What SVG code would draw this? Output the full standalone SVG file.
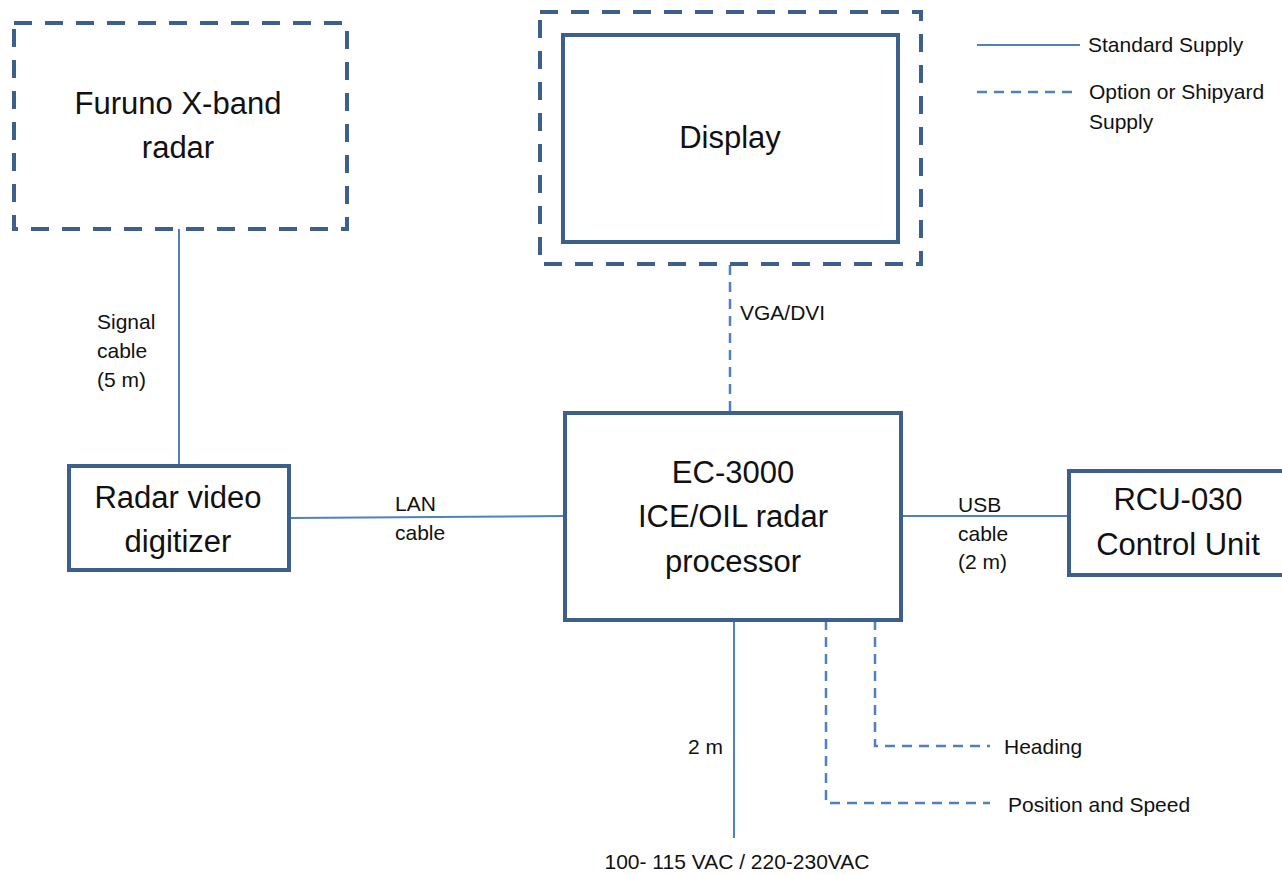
<svg xmlns="http://www.w3.org/2000/svg" width="1282" height="875" viewBox="0 0 1282 875">
<style>
.box{fill:#fff;stroke:#3d5f8c;stroke-width:4}
.dbox{fill:none;stroke:#3d5f8c;stroke-width:4;stroke-dasharray:18 13}
.ln{fill:none;stroke:#4f81bd;stroke-width:2}
.dl{fill:none;stroke:#4f81bd;stroke-width:2.5;stroke-dasharray:10 7}
.big{font-family:"Liberation Sans",Arial,sans-serif;font-size:31px;fill:#111;text-anchor:middle}
.sm{font-family:"Liberation Sans",Arial,sans-serif;font-size:21px;fill:#111}
</style>
<rect width="1282" height="875" fill="#fff"/>
<g id="connectors">
<line class="ln" x1="179" y1="229" x2="179" y2="466"/>
<line class="ln" x1="290" y1="518" x2="565" y2="516"/>
<line class="ln" x1="901" y1="516" x2="1069" y2="516"/>
<line class="dl" x1="730" y1="265" x2="730" y2="413"/>
<line class="ln" x1="734" y1="620" x2="734" y2="838"/>
<polyline class="dl" points="826,620 826,803 990,803"/>
<polyline class="dl" points="875,620 875,746 990,746"/>
<text class="sm" x="97" y="329">Signal</text>
<text class="sm" x="97" y="358">cable</text>
<text class="sm" x="97" y="387">(5 m)</text>
<text class="sm" x="395" y="511">LAN</text>
<text class="sm" x="395" y="540">cable</text>
<text class="sm" x="958" y="512">USB</text>
<text class="sm" x="958" y="541">cable</text>
<text class="sm" x="958" y="569">(2 m)</text>
<text class="sm" x="740" y="320">VGA/DVI</text>
<text class="sm" x="723" y="754" text-anchor="end">2 m</text>
<text class="sm" x="1004" y="754">Heading</text>
<text class="sm" x="1008" y="812">Position and Speed</text>
<text class="sm" x="737" y="869" text-anchor="middle">100- 115 VAC / 220-230VAC</text>
</g>
<g id="legend">
<line class="ln" x1="977" y1="45" x2="1080" y2="45"/>
<text class="sm" x="1088" y="52">Standard Supply</text>
<line class="dl" x1="977" y1="92" x2="1077" y2="92"/>
<text class="sm" x="1089" y="99">Option or Shipyard</text>
<text class="sm" x="1089" y="129">Supply</text>
</g>
<g id="furuno">
<rect class="dbox" x="14" y="23" width="333" height="206"/>
<text class="big" x="178" y="114">Furuno X-band</text>
<text class="big" x="178" y="158">radar</text>
</g>
<g id="display">
<rect class="dbox" x="540" y="12" width="381" height="252"/>
<rect class="box" x="563" y="35" width="335" height="207"/>
<text class="big" x="730" y="148">Display</text>
</g>
<g id="digitizer">
<rect class="box" x="69" y="466" width="220" height="104"/>
<text class="big" x="178" y="508">Radar video</text>
<text class="big" x="178" y="552">digitizer</text>
</g>
<g id="processor">
<rect class="box" x="565" y="413" width="336" height="207"/>
<text class="big" x="733" y="483">EC-3000</text>
<text class="big" x="733" y="527">ICE/OIL radar</text>
<text class="big" x="733" y="572">processor</text>
</g>
<g id="rcu">
<rect class="box" x="1069" y="471" width="220" height="104"/>
<text class="big" x="1178" y="510">RCU-030</text>
<text class="big" x="1178" y="555">Control Unit</text>
</g>
</svg>
